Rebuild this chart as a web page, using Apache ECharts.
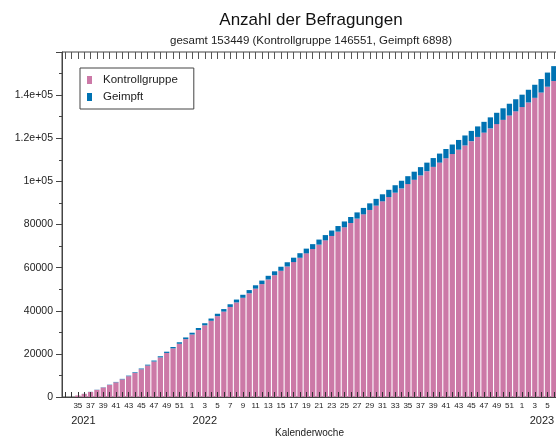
<!DOCTYPE html>
<html>
<head>
<meta charset="utf-8">
<script src="https://cdn.jsdelivr.net/npm/echarts@6/dist/echarts.min.js"></script>
<style>
  html, body { margin: 0; padding: 0; background: #fff; }
  #chart { width: 556px; height: 439px; }
</style>
</head>
<body>
<div id="chart"></div>
<script>
// calendar weeks shown on the x axis
const weeks2021 = [33, 34, 35, 36, 37, 38, 39, 40, 41, 42, 43, 44, 45, 46, 47, 48, 49, 50, 51, 52]
const weeks2022 = [1, 2, 3, 4, 5, 6, 7, 8, 9, 10, 11, 12, 13, 14, 15, 16, 17, 18, 19, 20,
  21, 22, 23, 24, 25, 26, 27, 28, 29, 30, 31, 32, 33, 34, 35, 36, 37, 38, 39, 40,
  41, 42, 43, 44, 45, 46, 47, 48, 49, 50, 51, 52]
const weeks2023 = [1, 2, 3, 4, 5, 6]

// cumulative number of interviews per week
const kontrollgruppe = [
  0, 0, 690, 1460, 2340, 3310, 4400, 5570, 6810, 8190, 9650, 11190, 12860, 14590, 16450, 18370, 20430, 22550, 24690, 26860,
  28980, 31090, 33240, 35350, 37500, 39600, 41760, 43870, 46010, 48110, 50250, 52350, 54490, 56490, 58530, 60530, 62570, 64570, 66610, 68610,
  70650, 72650, 74680, 76670, 78700, 80690, 82720, 84710, 86740, 88730, 90750, 92730, 94750, 96730, 98750, 100730, 102750, 104720, 106730, 108700,
  110710, 112680, 114690, 116650, 118650, 120610, 122610, 124570, 126570, 128530, 130530, 132490,
  134470, 136590, 138750, 141200, 143900, 146551,
]
const geimpft = [
  0, 0, 10, 30, 50, 80, 110, 140, 180, 220, 260, 300, 350, 400, 460, 520, 580, 640, 700, 760,
  830, 900, 970, 1040, 1110, 1180, 1250, 1320, 1400, 1480, 1560, 1640, 1720, 1800, 1880, 1960, 2040, 2120, 2200, 2280,
  2360, 2440, 2530, 2620, 2710, 2800, 2890, 2980, 3070, 3160, 3260, 3360, 3460, 3560, 3660, 3760, 3860, 3970, 4080, 4190,
  4300, 4410, 4520, 4640, 4760, 4880, 5000, 5120, 5240, 5360, 5480, 5600,
  5740, 5900, 6060, 6260, 6560, 6898,
]

const yTickLabels = ['0', '20000', '40000', '60000', '80000', '1e+05', '1.2e+05', '1.4e+05']
const yearLabels = ['2021', '2022', '2023']
const yearLabelWeeks = ['2021-35', '2022-3', '2023-5']

const titleText = 'Anzahl der Befragungen'
const subText = 'gesamt 153449 (Kontrollgruppe 146551, Geimpft 6898)'

const categories = [
  ...weeks2021.map((w) => '2021-' + w),
  ...weeks2022.map((w) => '2022-' + w),
  ...weeks2023.map((w) => '2023-' + w),
]

const FONT = '"Liberation Sans", Arial, Helvetica, sans-serif'
const INK = '#222'
const LINE = '#444'

function isLabelled(idx, val) {
  const week = +val.split('-')[1]
  return week % 2 === 1 && kontrollgruppe[idx] + geimpft[idx] > 0
}

function formatYear(val) {
  const yi = yearLabelWeeks.indexOf(val)
  if (yi < 0) return ''
  // first / last year label nudged inwards like the R plot
  const style = yi === 0 ? 'yl' : yi === yearLabels.length - 1 ? 'yr' : 'y'
  return '{' + style + '|' + yearLabels[yi] + '}'
}

const yearStyle = { fontSize: 11, color: INK, fontFamily: FONT }
// a second, invisible grid on the same rectangle only carries the year row
const gridBox = { left: 62, right: -1, top: 52, bottom: 42, outerBoundsMode: 'none', containLabel: false }

const chart = echarts.init(document.getElementById('chart'))

chart.setOption({
  animation: false,
  backgroundColor: '#fff',
  textStyle: { fontFamily: FONT, color: INK },
  title: {
    text: titleText,
    subtext: subText,
    left: 306,
    top: 7,
    textAlign: 'center',
    itemGap: 6,
    textStyle: { fontSize: 17, fontWeight: 'normal', color: '#111', fontFamily: FONT },
    subtextStyle: { fontSize: 11.5, color: INK, fontFamily: FONT },
  },
  legend: {
    orient: 'vertical',
    left: 80,
    top: 68,
    padding: [6, 16, 6, 7],
    itemGap: 5,
    itemWidth: 5,
    itemHeight: 8,
    icon: 'rect',
    borderColor: LINE,
    borderWidth: 1,
    textStyle: { fontSize: 11.5, color: INK, fontFamily: FONT, padding: [0, 0, 0, 6] },
    data: ['Kontrollgruppe', 'Geimpft'],
  },
  grid: [
    { ...gridBox, show: true, borderColor: LINE, borderWidth: 1, backgroundColor: 'transparent' },
    { ...gridBox, show: false },
  ],
  xAxis: [
    {
      type: 'category',
      data: categories,
      position: 'bottom',
      z: 5,
      axisLine: { show: true, lineStyle: { color: LINE } },
      axisTick: { show: true, inside: true, length: 5, interval: 0, alignWithLabel: true, lineStyle: { color: '#333' } },
      axisLabel: {
        interval: isLabelled,
        formatter: (v) => v.split('-')[1],
        hideOverlap: false,
        showMinLabel: true,
        showMaxLabel: true,
        margin: 5,
        fontSize: 8,
        color: INK,
        fontFamily: FONT,
      },
      name: 'Kalenderwoche',
      nameLocation: 'middle',
      nameGap: 31,
      nameMoveOverlap: false,
      nameTextStyle: { fontSize: 10, color: INK, fontFamily: FONT },
    },
    {
      type: 'category',
      data: categories,
      position: 'top',
      z: 5,
      axisLine: { show: false },
      axisTick: { show: true, inside: true, length: 7, interval: 0, alignWithLabel: true, lineStyle: { color: '#555' } },
      axisLabel: { show: false },
    },
    {
      type: 'category',
      gridIndex: 1,
      data: categories,
      position: 'bottom',
      axisLine: { show: false },
      axisTick: { show: false },
      axisLabel: {
        interval: (idx, val) => yearLabelWeeks.includes(val),
        formatter: formatYear,
        showMinLabel: true,
        showMaxLabel: true,
        margin: 18,
        rich: {
          y: yearStyle,
          yl: { ...yearStyle, padding: [0, 0, 0, 11] },
          yr: { ...yearStyle, padding: [0, 11, 0, 0] },
        },
      },
    },
  ],
  yAxis: [
    {
      type: 'value',
      min: 0,
      max: 160000,
      interval: 20000,
      axisLine: { show: true, lineStyle: { color: LINE } },
      axisTick: { show: true, length: 6, lineStyle: { color: LINE } },
      minorTick: { show: true, splitNumber: 2, length: 3, lineStyle: { color: LINE } },
      splitLine: { show: false },
      axisLabel: {
        fontSize: 10.5,
        color: INK,
        margin: 9,
        formatter: (v) => yTickLabels[Math.round(v / 20000)] ?? '',
      },
    },
    { type: 'value', gridIndex: 1, show: false, min: 0, max: 160000 },
  ],
  series: [
    {
      name: 'Kontrollgruppe',
      type: 'bar',
      stack: 'total',
      data: kontrollgruppe,
      barCategoryGap: '17%',
      itemStyle: { color: '#CC79A7' },
    },
    {
      name: 'Geimpft',
      type: 'bar',
      stack: 'total',
      data: geimpft,
      barCategoryGap: '17%',
      itemStyle: { color: '#0072B2' },
    },
  ],
})
</script>
</body>
</html>
